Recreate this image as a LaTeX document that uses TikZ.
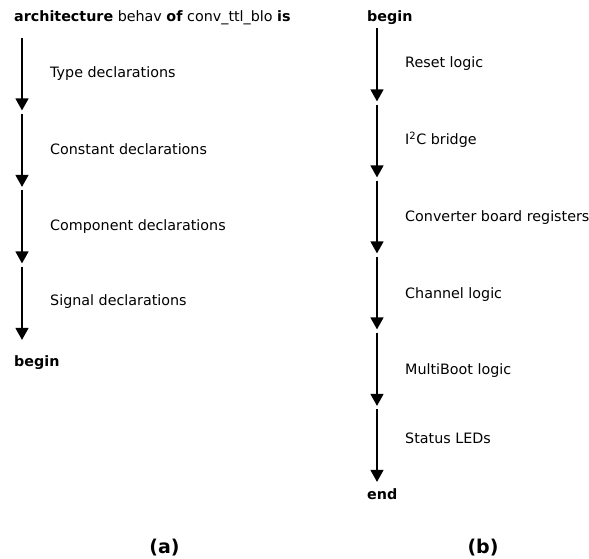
\documentclass[tikz,border=0pt]{standalone}
\usepackage{fontspec}
\setmainfont{DejaVu Sans}
\usetikzlibrary{arrows.meta}
\begin{document}
\begin{tikzpicture}[x=1pt,y=-1pt,
  txt/.style={anchor=base west,inner sep=0pt,font=\fontsize{14.3}{17}\selectfont},
  subcap/.style={anchor=base,inner sep=0pt,font=\fontsize{19}{22}\selectfont\bfseries},
  flow/.style={line width=1.4pt,-{Triangle[width=13pt,length=12pt]},shorten >=1.6pt,shorten <=1.6pt}]
\useasboundingbox (0,0) rectangle (589,559);

% (a) architecture declarative part
\node[txt] (archhead) at (14,22) {\textbf{architecture} behav \textbf{of} conv\_ttl\_blo \textbf{is}};
\coordinate (a0) at (22,36.5);
\coordinate (a1) at (22,112);
\coordinate (a2) at (22,188.5);
\coordinate (a3) at (22,265);
\coordinate (a4) at (22,341.5);
\draw[flow] (a0) -- (a1);
\draw[flow] (a1) -- (a2);
\draw[flow] (a2) -- (a3);
\draw[flow] (a3) -- (a4);
\node[txt] (typedecl) at (50,78) {Type declarations};
\node[txt] (constdecl) at (50,154) {Constant declarations};
\node[txt] (compdecl) at (50,230) {Component declarations};
\node[txt] (sigdecl) at (50,305) {Signal declarations};
\node[txt] (abegin) at (14,366.5) {\textbf{begin}};
\node[subcap] (capa) at (164.5,553) {(a)};

% (b) architecture body
\node[txt] (bbegin) at (367,21.5) {\textbf{begin}};
\coordinate (b0) at (377,26.5);
\coordinate (b1) at (377,103);
\coordinate (b2) at (377,179);
\coordinate (b3) at (377,255);
\coordinate (b4) at (377,331);
\coordinate (b5) at (377,407.5);
\coordinate (b6) at (377,483.5);
\draw[flow] (b0) -- (b1);
\draw[flow] (b1) -- (b2);
\draw[flow] (b2) -- (b3);
\draw[flow] (b3) -- (b4);
\draw[flow] (b4) -- (b5);
\draw[flow] (b5) -- (b6);
\node[txt] (reset) at (405,67.5) {Reset logic};
\node[txt] (iic) at (405,145) {I\textsuperscript{2}C bridge};
\node[txt] (convreg) at (405,221.5) {Converter board registers};
\node[txt] (chan) at (405,298) {Channel logic};
\node[txt] (multiboot) at (405,374.5) {MultiBoot logic};
\node[txt] (leds) at (405,443.5) {Status LEDs};
\node[txt] (bend) at (367,499) {\textbf{end}};
\node[subcap] (capb) at (483,553) {(b)};
\end{tikzpicture}
\end{document}
